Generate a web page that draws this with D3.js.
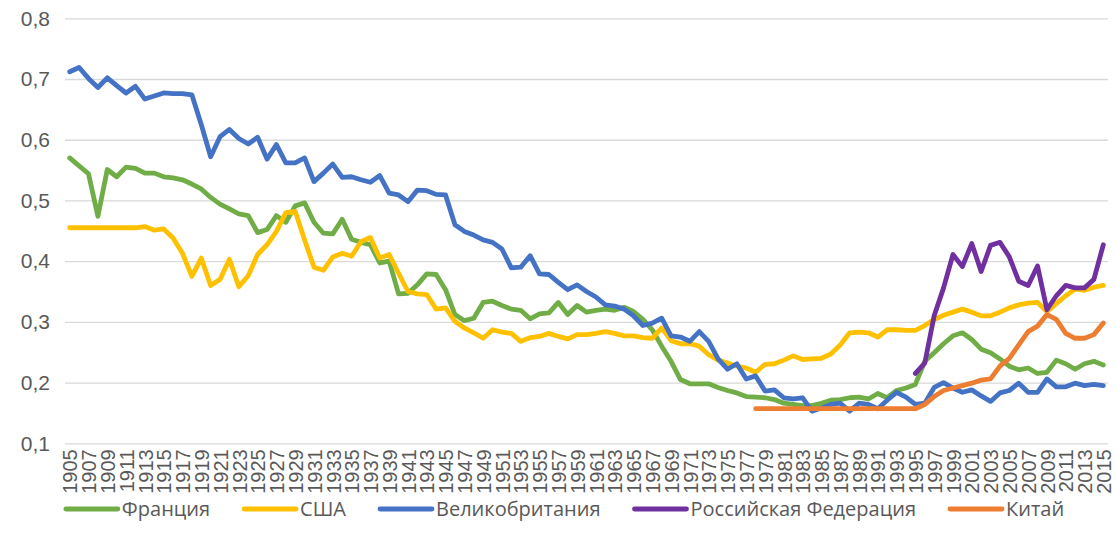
<!DOCTYPE html>
<html>
<head>
<meta charset="utf-8">
<script src="https://cdn.jsdelivr.net/npm/d3@7"></script>
<style>
  body { margin: 0; background: #fff; }
  svg { font-family: "Open Sans", sans-serif; }
  .grid line { stroke: #d9d9d9; stroke-width: 1.3; }
  .grid .domain, .xaxis .domain { display: none; }
  .grid text, .xaxis text { fill: #595959; }
  .legend text { fill: #595959; }
</style>
</head>
<body>
<div id="chart"></div>
<script>
// categories
const years = d3.range(1905, 2016);
const tickYears = years.filter(y => y % 2 === 1);
const yTicks = [0.1, 0.2, 0.3, 0.4, 0.5, 0.6, 0.7, 0.8];

// series values
const france = [
  0.570, 0.557, 0.544, 0.474, 0.551, 0.539, 0.555, 0.553, 0.545, 0.545,
  0.539, 0.537, 0.534, 0.527, 0.519, 0.505, 0.494, 0.486, 0.478, 0.475,
  0.447, 0.452, 0.475, 0.464, 0.491, 0.496, 0.464, 0.446, 0.445, 0.469,
  0.436, 0.431, 0.427, 0.397, 0.400, 0.346, 0.347, 0.361, 0.379, 0.378,
  0.353, 0.312, 0.302, 0.306, 0.332, 0.334, 0.327, 0.321, 0.319, 0.305,
  0.313, 0.315, 0.332, 0.312, 0.327, 0.316, 0.319, 0.321, 0.319, 0.324,
  0.317, 0.304, 0.287, 0.260, 0.235, 0.205, 0.198, 0.198, 0.198, 0.192,
  0.187, 0.183, 0.177, 0.176, 0.175, 0.172, 0.166, 0.164, 0.162, 0.162,
  0.166, 0.171, 0.172, 0.175, 0.176, 0.173, 0.182, 0.175, 0.187, 0.191,
  0.197, 0.235, 0.249, 0.264, 0.277, 0.282, 0.271, 0.255, 0.249, 0.239,
  0.227, 0.221, 0.224, 0.215, 0.217, 0.237, 0.231, 0.222, 0.231, 0.235,
  0.229
];
const usa = [
  0.455, 0.455, 0.455, 0.455, 0.455, 0.455, 0.455, 0.455, 0.457, 0.451,
  0.453, 0.438, 0.413, 0.375, 0.405, 0.360, 0.370, 0.403, 0.358, 0.376,
  0.411, 0.427, 0.449, 0.480, 0.482, 0.435, 0.390, 0.385, 0.407, 0.413,
  0.408, 0.432, 0.439, 0.405, 0.411, 0.380, 0.350, 0.346, 0.345, 0.321,
  0.323, 0.301, 0.290, 0.282, 0.273, 0.287, 0.283, 0.281, 0.268, 0.274,
  0.276, 0.281, 0.276, 0.272, 0.279, 0.279, 0.281, 0.284, 0.281, 0.277,
  0.277, 0.274, 0.273, 0.290, 0.269, 0.264, 0.264, 0.260, 0.246, 0.237,
  0.232, 0.227, 0.224, 0.217, 0.230, 0.231, 0.237, 0.244, 0.238, 0.239,
  0.240, 0.247, 0.262, 0.282, 0.283, 0.282, 0.275, 0.287, 0.287, 0.286,
  0.286, 0.294, 0.304, 0.311, 0.316, 0.321, 0.316, 0.310, 0.310, 0.316,
  0.323, 0.328, 0.331, 0.332, 0.317, 0.330, 0.343, 0.354, 0.352, 0.357,
  0.360
];
const uk = [
  0.712, 0.719, 0.701, 0.686, 0.702, 0.689, 0.677, 0.688, 0.667, 0.672,
  0.677, 0.676, 0.676, 0.674, 0.625, 0.572, 0.605, 0.617, 0.602, 0.593,
  0.604, 0.568, 0.592, 0.562, 0.562, 0.570, 0.531, 0.545, 0.560, 0.538,
  0.539, 0.534, 0.530, 0.541, 0.512, 0.509, 0.498, 0.517, 0.516, 0.510,
  0.509, 0.460, 0.449, 0.443, 0.435, 0.431, 0.420, 0.389, 0.390, 0.409,
  0.379, 0.378, 0.365, 0.353, 0.361, 0.350, 0.341, 0.328, 0.326, 0.321,
  0.310, 0.294, 0.298, 0.306, 0.277, 0.275, 0.268, 0.284, 0.268, 0.239,
  0.222, 0.231, 0.206, 0.211, 0.186, 0.188, 0.175, 0.173, 0.175, 0.153,
  0.158, 0.164, 0.166, 0.153, 0.166, 0.164, 0.157, 0.171, 0.184, 0.176,
  0.164, 0.166, 0.192, 0.200, 0.191, 0.184, 0.188, 0.178, 0.169, 0.183,
  0.187, 0.199, 0.184, 0.184, 0.206, 0.193, 0.193, 0.199, 0.195, 0.197,
  0.195
];
const russiaStart = 1995;
const russia = [
  0.215, 0.232, 0.310, 0.356, 0.411, 0.391, 0.429, 0.383, 0.426, 0.431,
  0.407, 0.367, 0.360, 0.392, 0.320, 0.343, 0.360, 0.356, 0.356, 0.370,
  0.427
];
const chinaStart = 1978;
const china = [
  0.157, 0.157, 0.157, 0.157, 0.157, 0.157, 0.157, 0.157, 0.157, 0.157,
  0.157, 0.157, 0.157, 0.157, 0.157, 0.157, 0.157, 0.157, 0.164, 0.177,
  0.187, 0.191, 0.195, 0.199, 0.204, 0.206, 0.227, 0.240, 0.262, 0.284,
  0.293, 0.312, 0.304, 0.281, 0.273, 0.273, 0.279, 0.298
];

const series = [
  {name: 'Франция', color: '#70ad47', start: 1905, values: france},
  {name: 'США', color: '#ffc000', start: 1905, values: usa},
  {name: 'Великобритания', color: '#4472c4', start: 1905, values: uk},
  {name: 'Российская Федерация', color: '#7030a0', start: russiaStart, values: russia},
  {name: 'Китай', color: '#ed7d31', start: chinaStart, values: china}
];

const width = 1116, height = 550;
const plot = {left: 65, right: 1108, top: 18.3, bottom: 443.3};

const svg = d3.select('#chart')
  .append('svg')
  .attr('width', width)
  .attr('height', height);

const x = d3.scalePoint().domain(years).range([plot.left, plot.right]).padding(0.5);
const y = d3.scaleLinear().domain([0.1, 0.8]).range([plot.bottom, plot.top]);

// gridlines + y labels
svg.append('g')
  .attr('class', 'grid')
  .attr('transform', 'translate(' + plot.left + ',0)')
  .call(d3.axisLeft(y)
    .tickValues(yTicks)
    .tickSize(-(plot.right - plot.left))
    .tickPadding(15)
    .tickFormat(d => d3.format('.1f')(d).replace('.', ',')))
  .selectAll('text')
  .style('font-size', '21px');

// x labels, rotated
svg.append('g')
  .attr('class', 'xaxis')
  .attr('transform', 'translate(0,' + plot.bottom + ')')
  .call(d3.axisBottom(x).tickValues(tickYears).tickSize(0))
  .selectAll('text')
  .style('font-size', '20px')
  .attr('text-anchor', 'end')
  .attr('transform', 'rotate(-90)')
  .attr('x', -6)
  .attr('y', 0)
  .attr('dy', '0.36em');

const line = d3.line()
  .x(d => x(d.year))
  .y(d => y(d.value));

series.forEach(s => {
  const pts = s.values.map((v, i) => ({year: s.start + i, value: v}));
  svg.append('path')
    .datum(pts)
    .attr('fill', 'none')
    .attr('stroke', s.color)
    .attr('stroke-width', 4.8)
    .attr('stroke-linejoin', 'round')
    .attr('stroke-linecap', 'round')
    .attr('d', line);
});

// legend
const legend = svg.append('g').attr('class', 'legend');
const legendY = 509, markerLen = 52, gap = 34;
const items = legend.selectAll('g')
  .data(series)
  .enter()
  .append('g');
items.append('line')
  .attr('x1', 0).attr('x2', markerLen)
  .attr('y1', 0).attr('y2', 0)
  .attr('stroke', d => d.color)
  .attr('stroke-width', 4.8)
  .attr('stroke-linecap', 'round');
items.append('text')
  .attr('x', markerLen + 4)
  .attr('dy', '0.35em')
  .style('font-size', '20px')
  .text(d => d.name);

let offset = 0;
const widths = [];
items.each(function() {
  const w = markerLen + 4 + this.querySelector('text').getComputedTextLength();
  widths.push(w);
});
const total = d3.sum(widths) + gap * (widths.length - 1);
offset = 565 - total / 2;
items.attr('transform', (d, i) => {
  const t = 'translate(' + offset + ',' + legendY + ')';
  offset += widths[i] + gap;
  return t;
});
</script>
</body>
</html>
